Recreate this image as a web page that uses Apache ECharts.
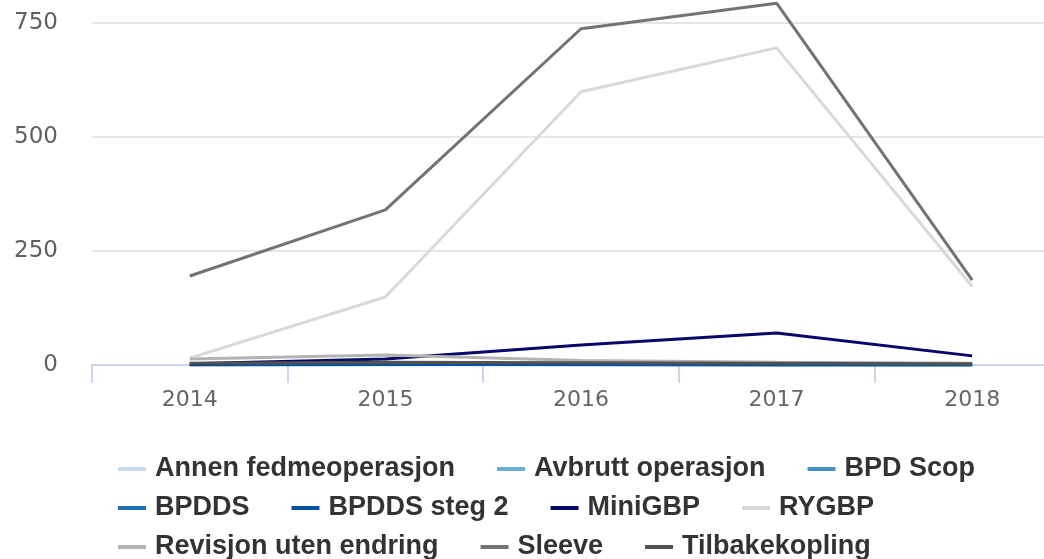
<!DOCTYPE html>
<html>
<head>
    <meta charset="utf-8">
    <title>Fedmeoperasjoner per år</title>
    <script src="https://cdn.jsdelivr.net/npm/echarts@6/dist/echarts.min.js"></script>
    <style>
        html, body { margin: 0; padding: 0; background: #fff; overflow: hidden; }
    </style>
</head>
<body>
    <!-- plottet går litt ut over høyre kant, som i originalen -->
    <div id="main" style="width: 1090px;height:559px;"></div>

    <script type="text/javascript">
        // år (kategorier)
        var years = ['2014', '2015', '2016', '2017', '2018'];

        // antall per operasjonstype
        var annenFedme = [2, 3, 2, 1, 1];
        var avbrutt = [1, 2, 1, 1, 0];
        var bpdScop = [0, 1, 0, 0, 0];
        var bpdds = [1, 2, 1, 0, 0];
        var bpddsSteg2 = [0, 1, 1, 0, 0];
        var miniGBP = [3, 13, 44, 70, 20];
        var rygbp = [15, 149, 599, 695, 172];
        var revisjon = [13, 22, 10, 6, 4];
        var sleeve = [195, 340, 737, 793, 186];
        var tilbakekopling = [4, 6, 5, 4, 3];

        var yTicks = [0, 250, 500, 750];

        var names = ['Annen fedmeoperasjon', 'Avbrutt operasjon', 'BPD Scop',
                     'BPDDS', 'BPDDS steg 2', 'MiniGBP', 'RYGBP',
                     'Revisjon uten endring', 'Sleeve', 'Tilbakekopling'];
        var values = [annenFedme, avbrutt, bpdScop, bpdds, bpddsSteg2,
                      miniGBP, rygbp, revisjon, sleeve, tilbakekopling];
        var colors = ['#c6dbef', '#6baed6', '#4292c6', '#2171b5', '#08519c',
                      '#08086b', '#d9d9d9', '#b3b3b3', '#737373', '#525252'];

        var legendRows = [names.slice(0, 3), names.slice(3, 7), names.slice(7)];

        var myChart = echarts.init(document.getElementById('main'));

        var series = [];
        for (var i = 0; i < names.length; i++) {
            series.push({
                name: names[i],
                type: 'line',
                data: values[i],
                symbol: 'none',
                color: colors[i],
                lineStyle: { width: 3, color: colors[i] },
                animation: false
            });
        }

        var legends = [];
        for (var r = 0; r < legendRows.length; r++) {
            legends.push({
                data: legendRows[r],
                left: 118,
                top: 454 + r * 39,
                padding: 0,
                orient: 'horizontal',
                icon: 'rect',
                itemWidth: 28,
                itemHeight: 4,
                itemGap: 42,
                selectedMode: false,
                textStyle: {
                    fontFamily: 'Liberation Sans',
                    fontWeight: 'bold',
                    fontSize: 27,
                    lineHeight: 30,
                    color: '#333333',
                    padding: [0, 0, 0, 4]
                }
            });
        }

        var option = {
            backgroundColor: '#ffffff',
            animation: false,
            legend: legends,
            grid: {
                left: 92,
                top: 0,
                width: 978,
                height: 365,
                containLabel: false
            },
            xAxis: {
                type: 'category',
                data: years,
                boundaryGap: true,
                axisLine: { lineStyle: { color: '#ccd6eb', width: 2 } },
                axisTick: { show: true, length: 18, lineStyle: { color: '#ccd6eb', width: 2 } },
                axisLabel: {
                    margin: 24,
                    fontFamily: 'DejaVu Sans',
                    fontSize: 22,
                    color: '#666666'
                },
                splitLine: { show: false }
            },
            yAxis: {
                type: 'value',
                min: 0,
                max: 800,
                interval: 250,
                axisLine: { show: false },
                axisTick: { show: false },
                axisLabel: {
                    margin: 34,
                    fontFamily: 'DejaVu Sans',
                    fontSize: 23,
                    color: '#606060',
                    showMaxLabel: false,
                    formatter: function (v) {
                        return yTicks.indexOf(v) >= 0 ? String(v) : '';
                    }
                },
                splitLine: {
                    showMaxLine: false,
                    lineStyle: { color: '#e6e6e6', width: 2 }
                }
            },
            series: series
        };

        myChart.setOption(option);
    </script>
</body>
</html>
